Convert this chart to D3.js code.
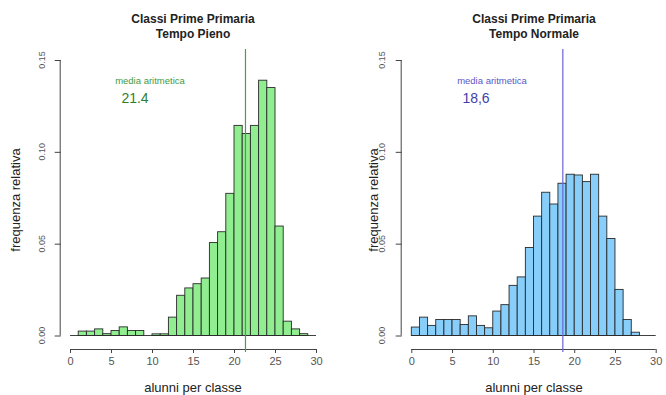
<!DOCTYPE html>
<html>
<head>
<meta charset="utf-8">
<script src="https://cdn.jsdelivr.net/npm/d3@7"></script>
<style>
  body { margin: 0; background: #fff; }
  text { font-family: "Liberation Sans", Arial, sans-serif; }
</style>
</head>
<body>
<div id="chart"></div>
<script>
// classi (bin start), frequenze relative
var binStart = [0,1,2,3,4,5,6,7,8,9,10,11,12,13,14,15,16,17,18,19,20,21,22,23,24,25,26,27,28,29];
var pienoFreq = [0, 0.0024, 0.0024, 0.0036, 0.001, 0.0027, 0.0047, 0.0027, 0.0027, 0,
	0.0009, 0.0009, 0.010, 0.0219, 0.0259, 0.0282, 0.0313, 0.0506, 0.0565, 0.0774,
	0.1144, 0.110, 0.1144, 0.139, 0.135, 0.0596, 0.0078, 0.0036, 0.001, 0];
var normaleFreq = [0.0046, 0.010, 0.0055, 0.0087, 0.0087, 0.0087, 0.006, 0.0107, 0.0055, 0.0042,
	0.0133, 0.0168, 0.0273, 0.0319, 0.0479, 0.065, 0.078, 0.0716, 0.0829, 0.0878,
	0.0874, 0.0838, 0.0878, 0.065, 0.0528, 0.0251, 0.0087, 0.0018, 0, 0];
var xTicks = [0, 5, 10, 15, 20, 25, 30];
var yTicks = [0, 0.05, 0.10, 0.15];
var medie = [21.4, 18.6];
var medieLabel = ["21.4", "18,6"];
var titoli = ["Tempo Pieno", "Tempo Normale"];

var w = 666, h = 395;

var svg = d3.select("#chart")
	.append("svg")
	.attr("width", w)
	.attr("height", h);

var panels = [
	{x0: 70, x1: 316, yAxisX: 60.7, yLabX: 15, yTickX: 42, cx: 193,
	 data: pienoFreq, mean: medie[0], meanLab: medieLabel[0], title: titoli[0],
	 fill: "#90ee90", line: "#4f9a4f", txt: "#3f9a3f", num: "#2f7f2f", mediaX: 150, numX: 135},
	{x0: 411.3, x1: 655.7, yAxisX: 401.7, yLabX: 373, yTickX: 382, cx: 534,
	 data: normaleFreq, mean: medie[1], meanLab: medieLabel[1], title: titoli[1],
	 fill: "#87cefa", line: "#6a64d6", txt: "#5a58c8", num: "#3f3fa8", mediaX: 492, numX: 476}
];

panels.forEach(function(p) {
	var x = d3.scaleLinear().domain([0, 30]).range([p.x0, p.x1]);
	var y = d3.scaleLinear().domain([0, 0.15]).range([335.5, 60]);
	var g = svg.append("g");

	// titolo
	g.append("text").attr("x", p.cx).attr("y", 23)
		.attr("text-anchor", "middle").attr("font-size", 12).attr("font-weight", "bold")
		.attr("fill", "#222").text("Classi Prime Primaria");
	g.append("text").attr("x", p.cx).attr("y", 38)
		.attr("text-anchor", "middle").attr("font-size", 12).attr("font-weight", "bold")
		.attr("fill", "#222").text(p.title);

	// barre
	g.selectAll(".bar")
		.data(p.data)
		.enter()
		.append("rect")
		.attr("x", function(d, i) { return x(binStart[i]); })
		.attr("width", function(d, i) { return x(binStart[i] + 1) - x(binStart[i]); })
		.attr("y", function(d) { return y(d); })
		.attr("height", function(d) { return y(0) - y(d); })
		.attr("fill", p.fill)
		.attr("stroke", "#2a2a2a")
		.attr("stroke-width", 0.9);
	// base delle barre (anche le classi vuote)
	g.append("line")
		.attr("x1", x(0)).attr("x2", x(30))
		.attr("y1", y(0)).attr("y2", y(0))
		.attr("stroke", "#2a2a2a").attr("stroke-width", 0.9);

	// asse x
	var xa = g.append("g").attr("transform", "translate(0,349)")
		.call(d3.axisBottom(x).tickValues(xTicks).tickSize(4).tickPadding(4));
	xa.select(".domain").attr("stroke", "#444").attr("d", "M" + x(0) + ",0.5H" + x(30));
	xa.selectAll("line").attr("stroke", "#444");
	xa.selectAll("text").attr("font-size", 11).attr("fill", "#555")
		.attr("font-family", "Liberation Sans, Arial, sans-serif");

	// asse y
	var ya = g.append("g").attr("transform", "translate(" + p.yAxisX + ",0)")
		.call(d3.axisLeft(y).tickValues(yTicks).tickSize(6).tickFormat(d3.format(".2f")));
	ya.select(".domain").attr("stroke", "#444").attr("d", "M-0.5," + y(0) + "V" + y(0.15));
	ya.selectAll("line").attr("stroke", "#444");
	ya.selectAll("text").remove();
	g.selectAll(".ytl")
		.data(yTicks)
		.enter()
		.append("text")
		.attr("transform", function(d) { return "translate(" + p.yTickX + "," + y(d) + ") rotate(-90)"; })
		.attr("text-anchor", "middle")
		.attr("dy", "0.35em")
		.attr("font-size", 9)
		.attr("fill", "#555")
		.text(d3.format(".2f"));

	// titoli assi
	g.append("text")
		.attr("transform", "translate(" + p.yLabX + ",200) rotate(-90)")
		.attr("text-anchor", "middle").attr("dy", "0.35em")
		.attr("font-size", 13).attr("fill", "#222").text("frequenza relativa");
	g.append("text").attr("x", p.cx).attr("y", 392)
		.attr("text-anchor", "middle").attr("font-size", 13).attr("fill", "#222")
		.text("alunni per classe");

	// media
	g.append("line")
		.attr("x1", x(p.mean)).attr("x2", x(p.mean))
		.attr("y1", 49).attr("y2", 352)
		.attr("stroke", p.line).attr("stroke-width", 1.2);
	g.append("text").attr("x", p.mediaX).attr("y", 84)
		.attr("text-anchor", "middle").attr("font-size", 9.5).attr("fill", p.txt)
		.text("media aritmetica");
	g.append("text").attr("x", p.numX).attr("y", 103)
		.attr("text-anchor", "middle").attr("font-size", 14).attr("fill", p.num)
		.text(p.meanLab);
});
</script>
</body>
</html>
